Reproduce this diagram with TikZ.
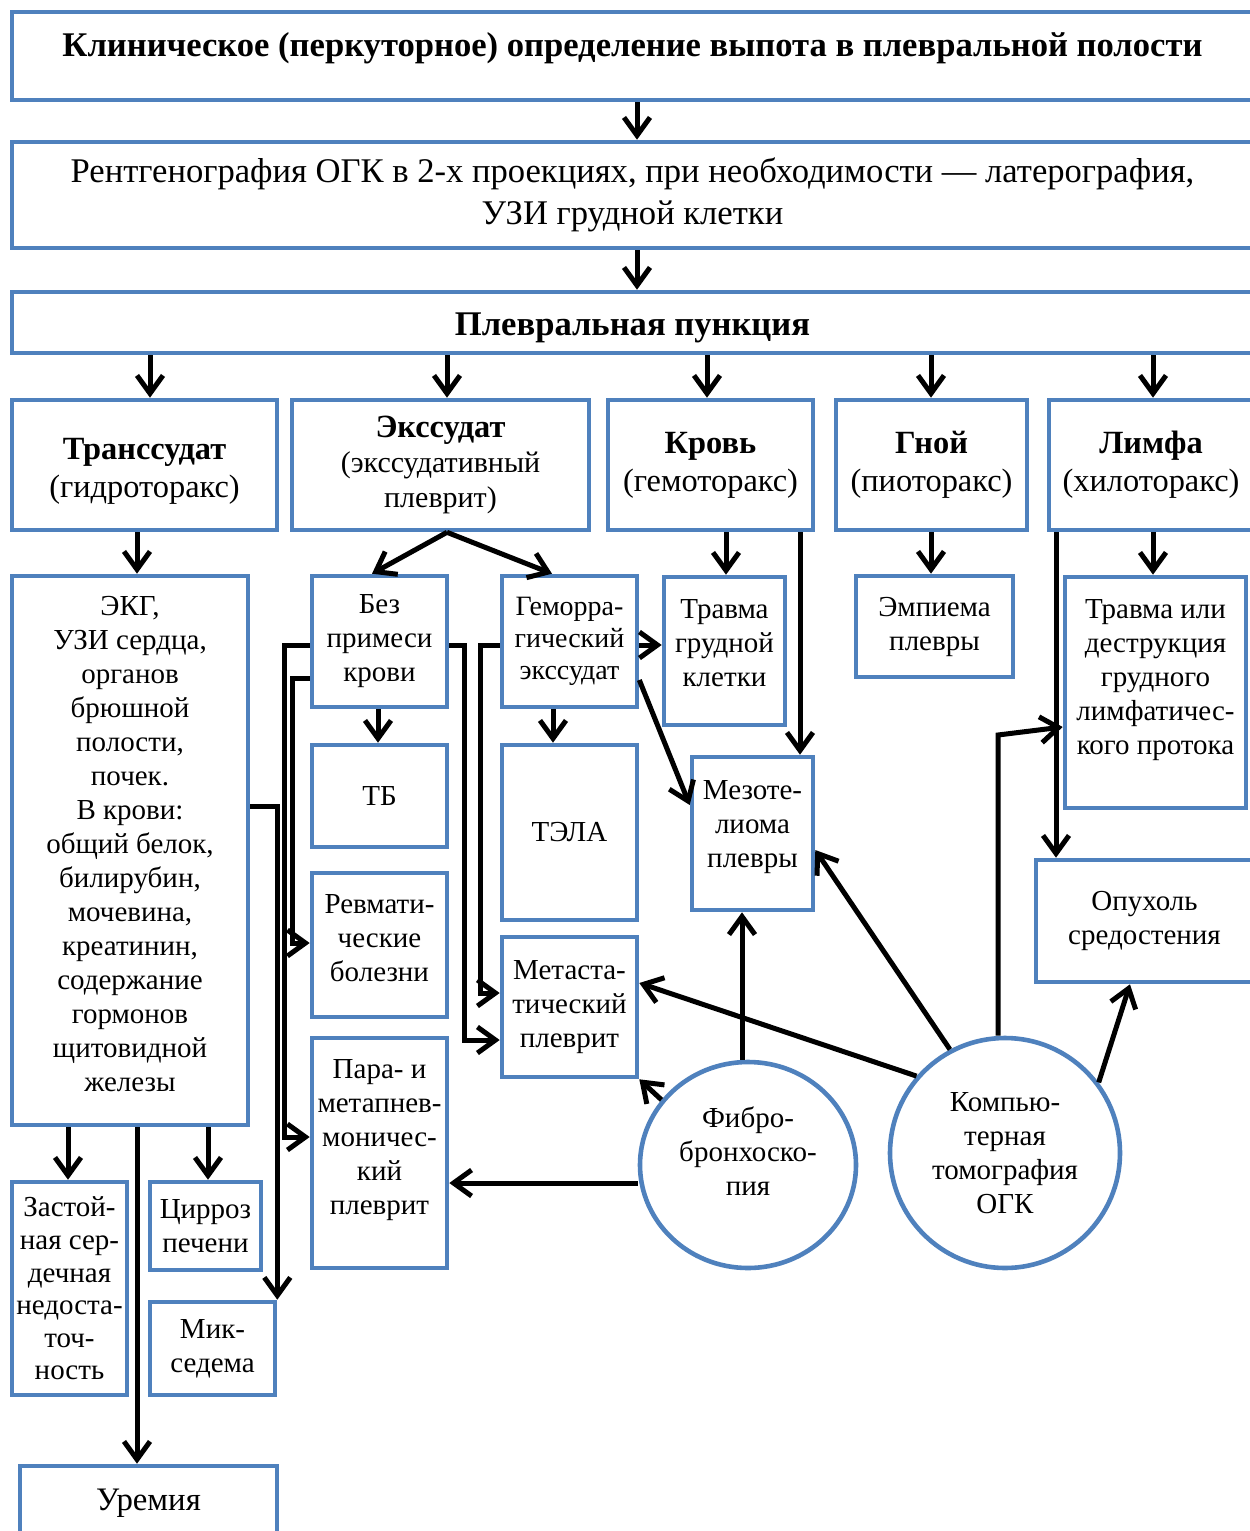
\documentclass[tikz,border=0pt]{standalone}
\usepackage{fontspec}
\setmainfont{Liberation Serif}
\usetikzlibrary{arrows.meta,shapes.geometric}
\definecolor{bblue}{HTML}{4F81BD}
\newcommand\fTop{\fontsize{17.3}{21}\selectfont}
\newcommand\fHead{\fontsize{16.2}{19}\selectfont}
\newcommand\fHeadS{\fontsize{15}{17.5}\selectfont}
\newcommand\fBody{\fontsize{14.5}{17}\selectfont}
\newcommand\fSmall{\fontsize{14}{16}\selectfont}
\newcommand\mybx[7][]{\node[box,#1,minimum width={(#5-#3)*0.5pt},minimum height={(#6-#4)*0.5pt}] (#2) at ({(#3+#5)/2},{(#4+#6)/2}) {#7};}
\begin{document}
\begin{tikzpicture}[x=0.5pt,y=-0.5pt,
  box/.style={draw=bblue,line width=2.3pt,align=center,inner sep=1pt,font=\fBody},
  oval/.style={ellipse,draw=bblue,line width=2.3pt,align=center,inner sep=0pt,font=\fBody},
  conn/.style={line width=2.5pt,-{Straight Barb[length=9pt,width=13pt]}}]
\fill[white] (0,0) rectangle (1249,1531);
\useasboundingbox (0,0) rectangle (1249,1531);
% top boxes
\mybx[font=\fTop\bfseries,text depth=12pt]{b1}{12}{12}{1253}{100}{Клиническое (перкуторное) определение выпота в плевральной полости}
\mybx[font=\fTop]{b2}{12}{142}{1253}{248}{Рентгенография ОГК в 2-х проекциях, при необходимости — латерография,\\ УЗИ грудной клетки}
\mybx[font=\fTop\bfseries,text height=17pt]{b3}{12}{292}{1253}{353}{Плевральная пункция}
% second row
\mybx[font=\fHead,text height=36pt]{tr}{12}{400}{277}{530}{\textbf{Транссудат}\\(гидроторакс)}
\mybx[font=\fHeadS]{ex}{292}{400}{589}{530}{{\fHead\bfseries Экссудат}\\(экссудативный\\плеврит)}
\mybx[font=\fHead]{kr}{608}{400}{813}{530}{\textbf{Кровь}\\(гемоторакс)}
\mybx[font=\fHead]{gn}{836}{400}{1027}{530}{\textbf{Гной}\\(пиоторакс)}
\mybx[font=\fHead]{lm}{1049}{400}{1253}{530}{\textbf{Лимфа}\\(хилоторакс)}
% third level
\mybx[text depth=7pt]{ekg}{12}{576}{248}{1125}{ЭКГ,\\УЗИ сердца,\\органов\\брюшной\\полости,\\почек.\\В крови:\\общий белок,\\билирубин,\\мочевина,\\креатинин,\\содержание\\гормонов\\щитовидной\\железы}
\mybx{bez}{312}{576}{447}{707}{Без\\примеси\\крови}
\mybx[font=\fSmall]{gem}{502}{576}{637}{707}{Геморра-\\гический\\экссудат}
\mybx[text depth=8pt]{trgk}{664}{577}{785}{725}{Травма\\грудной\\клетки}
\mybx{emp}{856}{576}{1013}{677}{Эмпиема\\плевры}
\mybx[text depth=16pt]{trld}{1065}{577}{1246}{808}{Травма или\\деструкция\\грудного\\лимфатичес-\\кого протока}
\mybx{tb}{312}{745}{447}{847}{ТБ}
\mybx{tela}{502}{745}{637}{920}{ТЭЛА}
\mybx[text depth=10pt]{mez}{692}{757}{813}{910}{Мезоте-\\лиома\\плевры}
\mybx[text depth=7pt]{revm}{312}{873}{447}{1017}{Ревмати-\\ческие\\болезни}
\mybx{meta}{502}{937}{637}{1077}{Метаста-\\тический\\плеврит}
\mybx[text depth=16pt]{para}{312}{1038}{447}{1268}{Пара- и\\метапнев-\\моничес-\\кий\\плеврит}
\mybx{opux}{1036}{860}{1253}{982}{Опухоль\\средостения}
\mybx[font=\fontsize{14.5}{16.3}\selectfont]{zast}{12}{1182}{127}{1395}{Застой-\\ная сер-\\дечная\\недоста-\\точ-\\ность}
\mybx{cirr}{150}{1182}{261}{1270}{Цирроз\\печени}
\mybx{mix}{150}{1302}{275}{1395}{Мик-\\седема}
\mybx[font=\fontsize{16.4}{19}\selectfont]{urem}{20}{1466}{277}{1540}{Уремия}
\node[oval,minimum width=108pt,minimum height=103pt,text depth=14pt] (fbs) at (748,1165) {Фибро-\\бронхоско-\\пия};
\node[oval,minimum width=115pt,minimum height=115pt] (kt) at (1005,1153) {Компью-\\терная\\томография\\ОГК};
% connectors
\draw[conn] (b1.south -| 637,0) -- (b2.north -| 637,0);
\draw[conn] (b2.south -| 637,0) -- (b3.north -| 637,0);
\draw[conn] (b3.south -| 150,0) -- (tr.north -| 150,0);
\draw[conn] (b3.south -| 447,0) -- (ex.north -| 447,0);
\draw[conn] (b3.south -| 707,0) -- (kr.north -| 707,0);
\draw[conn] (b3.south -| 931,0) -- (gn.north -| 931,0);
\draw[conn] (b3.south -| 1153,0) -- (lm.north -| 1153,0);
\draw[conn] (tr.south -| 137,0) -- (ekg.north -| 137,0);
\draw[conn] (ex.south -| 447,0) -- (bez.north -| 372,0);
\draw[conn] (ex.south -| 447,0) -- (gem.north -| 552,0);
\draw[conn] (kr.south -| 726,0) -- (trgk.north -| 726,0);
\draw[conn] (kr.south -| 800,0) -- (mez.north -| 800,0);
\draw[conn] (gn.south -| 931,0) -- (emp.north -| 931,0);
\draw[conn] (lm.south -| 1153,0) -- (trld.north -| 1153,0);
\draw[conn] (lm.south -| 1056,0) -- (opux.north -| 1056,0);
\draw[conn] (bez.south -| 378,0) -- (tb.north -| 378,0);
\draw[conn] (gem.south -| 553,0) -- (tela.north -| 553,0);
\draw[conn] (gem.east |- 0,645) -- (trgk.west |- 0,645);
\draw[conn] (gem.east |- 0,680) -- (mez.west |- 0,805);
\draw[conn] (bez.west |- 0,678) -- (292,678) |- (revm.west |- 0,943);
\draw[conn] (bez.west |- 0,645) -- (284,645) |- (para.west |- 0,1137);
\draw[conn] (bez.east |- 0,645) -- (464,645) |- (meta.west |- 0,1040);
\draw[conn] (gem.west |- 0,645) -- (480,645) |- (meta.west |- 0,993);
\draw[conn] (ekg.east |- 0,806) -| (mix.north east);
\draw[conn] (ekg.south -| 68,0) -- (zast.north -| 68,0);
\draw[conn] (ekg.south -| 208,0) -- (cirr.north -| 208,0);
\draw[conn] (ekg.south -| 137,0) -- (urem.north -| 137,0);
\draw[conn] (fbs.north -| 742,0) -- (mez.south -| 742,0);
\draw[conn] (fbs.west |- 0,1183) -- (para.east |- 0,1183);
\draw[conn] (fbs.143) -- (meta.south east);
\draw[conn] (kt.139) -- (meta.east |- 0,983);
\draw[conn] (kt.118) -- (mez.east |- 0,850);
\draw[conn] (kt.north -| 998,0) -- (998,735) -- (trld.west |- 0,727);
\draw[conn] (kt.37) -- (opux.south -| 1130,0);
\end{tikzpicture}
\end{document}
